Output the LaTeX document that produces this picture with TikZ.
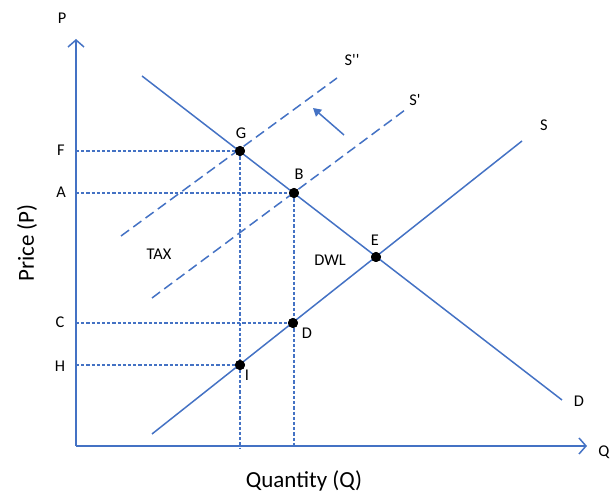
\documentclass[tikz,border=0pt]{standalone}
\usepackage{fontspec}
\setmainfont{Carlito}
\usetikzlibrary{arrows.meta,positioning}
\definecolor{CurveBlue}{HTML}{4472C4}

\begin{document}
\begin{tikzpicture}[x=0.5pt,y=-0.5pt,
  curve/.style={draw=CurveBlue,line width=0.75pt},
  guide/.style={draw=CurveBlue,line width=0.6pt,dash pattern=on 1.6pt off 1pt},
  shifted/.style={draw=CurveBlue,line width=0.75pt,dash pattern=on 5pt off 2.6pt},
  axis/.style={curve,-{Straight Barb[length=3.5pt,width=8pt]}},
  dot/.style={circle,fill=black,inner sep=0pt,minimum size=5pt},
  lbl/.style={font=\fontsize{8.2}{9}\selectfont,inner sep=0pt},
  title/.style={font=\fontsize{11.5}{13}\selectfont,inner sep=0pt}
]
  \useasboundingbox (0,0) rectangle (612,496);

  \coordinate (origin) at (76,446);
  \coordinate (ytop) at (76,39);
  \coordinate (xend) at (587,446);
  \coordinate (dtop) at (142,76);
  \coordinate (dbot) at (562,400);
  \coordinate (sbot) at (152,434);
  \coordinate (stop) at (522,141);
  \coordinate (s1bot) at (152,298);
  \coordinate (s1top) at (405,110);
  \coordinate (s2bot) at (121,236);
  \coordinate (s2top) at (337,78);
  \coordinate (shiftfrom) at (344,135);
  \coordinate (shiftto) at (313,108);

  \node[dot] (ptG) at (240,151) {};
  \node[dot] (ptB) at (294,193) {};
  \node[dot] (ptE) at (376,257) {};
  \node[dot] (ptD) at (293,323) {};
  \node[dot] (ptI) at (240,365) {};

  \draw[guide] (origin |- ptG) -- (ptG);
  \draw[guide] (origin |- ptB) -- (ptB);
  \draw[guide] (origin |- ptD) -- (ptD);
  \draw[guide] (origin |- ptI) -- (ptI);
  \draw[guide] (ptG) -- ([yshift=-1pt]ptG |- origin);
  \draw[guide] (ptB) -- ([yshift=-1pt]ptB |- origin);

  \draw[axis] (origin) -- (ytop);
  \draw[axis] (origin) -- (xend);
  \draw[curve] (dtop) -- (dbot);
  \draw[curve] (sbot) -- (stop);
  \draw[shifted] (s1bot) -- (s1top);
  \draw[shifted] (s2bot) -- (s2top);
  \draw[curve,-{Triangle[length=4pt,width=4.5pt]}] (shiftfrom) -- (shiftto);

  \node[dot] at (ptG) {};
  \node[dot] at (ptB) {};
  \node[dot] at (ptE) {};
  \node[dot] at (ptD) {};
  \node[dot] at (ptI) {};

  \node[lbl] (labP) at (62,18) {P};
  \node[lbl] (labQ) at (604,452) {Q};
  \node[lbl] (labF) at (61,150) {F};
  \node[lbl] (labA) at (61,192) {A};
  \node[lbl] (labC) at (60,322) {C};
  \node[lbl] (labH) at (60,366) {H};
  \node[lbl] (labG) at (241,133) {G};
  \node[lbl] (labB) at (299,174) {B};
  \node[lbl] (labE) at (375,240) {E};
  \node[lbl] (labDWL) at (330,260) {DWL};
  \node[lbl] (labptD) at (307,333) {D};
  \node[lbl] (labI) at (247,375) {I};
  \node[lbl] (labTAX) at (159,254) {TAX};
  \node[lbl] (labS2) at (352,60) {S\textquotesingle\textquotesingle};
  \node[lbl] (labS1) at (415,100) {S\textquotesingle};
  \node[lbl] (labS) at (544,125) {S};
  \node[lbl] (labD) at (579,401) {D};

  \node[title,rotate=90] (price) at (27,243) {Price (P)};
  \node[title] (quantity) at (304,481) {Quantity (Q)};
\end{tikzpicture}
\end{document}
